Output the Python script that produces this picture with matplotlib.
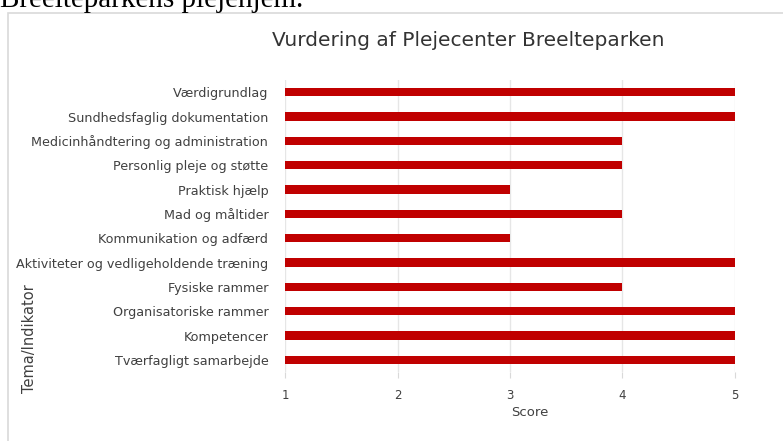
import matplotlib
matplotlib.use("Agg")
import matplotlib.pyplot as plt
from matplotlib.patches import Rectangle

# data
temaer = ["Værdigrundlag", "Sundhedsfaglig dokumentation",
          "Medicinhåndtering og administration", "Personlig pleje og støtte",
          "Praktisk hjælp", "Mad og måltider", "Kommunikation og adfærd",
          "Aktiviteter og vedligeholdende træning", "Fysiske rammer",
          "Organisatoriske rammer", "Kompetencer", "Tværfagligt samarbejde"]
score = [5, 5, 4, 4, 3, 4, 3, 5, 4, 5, 5, 5]
xticks = [1, 2, 3, 4, 5]

W, H = 783, 441
fig = plt.figure(figsize=(W / 100, H / 100), dpi=100)
plt.rcParams['font.family'] = ['DejaVu Sans']

# cut-off heading text above the chart
fig.text(0, 1 - 7 / H, "Breelteparkens plejehjem.", family="Liberation Serif",
         fontsize=21, color="black", va="baseline", ha="left")

# chart frame
fig.patches.append(Rectangle((8 / W, -0.1), 1.2, 1 - 13 / H + 0.1,
                             transform=fig.transFigure, fill=False,
                             edgecolor="#d9d9d9", linewidth=1.2))

ax = fig.add_axes([285 / W, 1 - 372 / H, 450 / W, 292 / H])
y = list(range(len(temaer)))
ax.barh(y, [s - 1 for s in score], left=1, height=0.34, color="#c00000", zorder=3)
ax.set_xlim(1, 5)
ax.set_ylim(len(temaer) - 0.5, -0.5)
ax.set_yticks(y)
ax.set_yticklabels(temaer, fontsize=9.2, color="#404040")
ax.set_xticks(xticks)
ax.set_xticklabels([str(t) for t in xticks], fontsize=8.5, color="#404040")
ax.tick_params(axis="y", length=0, pad=12)
ax.tick_params(axis="x", length=4, color="#d9d9d9", pad=8)
ax.grid(axis="x", color="#e6e6e6", linewidth=1, zorder=0)
for sp in ax.spines.values():
    sp.set_visible(False)

fig.text(530 / W, 1 - 412 / H, "Score", fontsize=9.5, color="#404040",
         ha="center", va="center")
fig.text(30 / W, 1 - 339 / H, "Tema/Indikator", fontsize=10.5, color="#404040",
         ha="center", va="center", rotation=90)
fig.text(468 / W, 1 - 40 / H, "Vurdering af Plejecenter Breelteparken",
         fontsize=14.5, color="#333333", ha="center", va="center")

fig.savefig("out.png", dpi=100)
